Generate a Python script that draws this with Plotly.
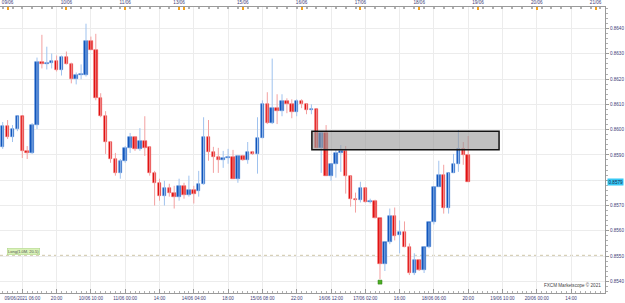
import plotly.graph_objects as go

# ---------------- data (2-hour candles, EUR/GBP-like) ----------------
idx = list(range(96))
open_ = [0.85932, 0.86014, 0.85971, 0.86002, 0.86053, 0.85916, 0.85908, 0.86018, 0.86269, 0.86258,
         0.86265, 0.86273, 0.86234, 0.86289, 0.86261, 0.86199, 0.86216, 0.86218, 0.86352, 0.86316,
         0.86124, 0.86053, 0.85951, 0.85884, 0.85829, 0.85877, 0.85928, 0.85971, 0.85924, 0.85955,
         0.85932, 0.85829, 0.85790, 0.85739, 0.85771, 0.85751, 0.85735, 0.85778, 0.85743, 0.85763,
         0.85759, 0.85786, 0.85971, 0.85912, 0.85892, 0.85880, 0.85888, 0.85892, 0.85806, 0.85896,
         0.85880, 0.85912, 0.85904, 0.85967, 0.86100, 0.86026, 0.86085, 0.86073, 0.86112, 0.86100,
         0.86069, 0.86112, 0.86100, 0.86077, 0.86081, 0.85928, 0.85987, 0.85818, 0.85865, 0.85908,
         0.85916, 0.85818, 0.85727, 0.85723, 0.85771, 0.85712, 0.85719, 0.85649, 0.85468, 0.85554,
         0.85657, 0.85582, 0.85594, 0.85535, 0.85433, 0.85484, 0.85444, 0.85535, 0.85633, 0.85774,
         0.85822, 0.85692, 0.85829, 0.85865, 0.85924, 0.85900]
high = [0.86030, 0.86038, 0.86018, 0.86053, 0.86053, 0.85935, 0.86026, 0.86285, 0.86375, 0.86328,
        0.86301, 0.86293, 0.86293, 0.86309, 0.86265, 0.86226, 0.86258, 0.86419, 0.86368, 0.86379,
        0.86144, 0.86073, 0.85955, 0.85908, 0.85884, 0.85935, 0.85987, 0.85975, 0.86006, 0.86053,
        0.85935, 0.85837, 0.85806, 0.85798, 0.85786, 0.85778, 0.85806, 0.85790, 0.85818, 0.85778,
        0.85837, 0.86049, 0.86038, 0.85932, 0.85928, 0.85916, 0.85924, 0.85920, 0.85900, 0.85900,
        0.85951, 0.85916, 0.86049, 0.86116, 0.86148, 0.86281, 0.86140, 0.86140, 0.86124, 0.86120,
        0.86120, 0.86120, 0.86104, 0.86100, 0.86081, 0.85990, 0.86018, 0.85865, 0.85920, 0.85939,
        0.85935, 0.85818, 0.85751, 0.85794, 0.85771, 0.85727, 0.85723, 0.85649, 0.85554, 0.85688,
        0.85692, 0.85641, 0.85637, 0.85550, 0.85511, 0.85488, 0.85535, 0.85633, 0.85774, 0.85877,
        0.85861, 0.85829, 0.85904, 0.85998, 0.85951, 0.85975]
low = [0.85924, 0.85963, 0.85951, 0.85994, 0.85888, 0.85884, 0.85904, 0.86002, 0.86242, 0.86238,
       0.86242, 0.86230, 0.86214, 0.86258, 0.86183, 0.86179, 0.86199, 0.86210, 0.86316, 0.86116,
       0.86049, 0.85904, 0.85869, 0.85818, 0.85806, 0.85869, 0.85908, 0.85916, 0.85916, 0.85896,
       0.85818, 0.85700, 0.85719, 0.85700, 0.85735, 0.85688, 0.85719, 0.85727, 0.85735, 0.85708,
       0.85735, 0.85782, 0.85877, 0.85829, 0.85829, 0.85849, 0.85865, 0.85806, 0.85790, 0.85877,
       0.85865, 0.85900, 0.85826, 0.85967, 0.86022, 0.86022, 0.86022, 0.86053, 0.86065, 0.86045,
       0.86053, 0.86085, 0.86061, 0.86061, 0.85928, 0.85829, 0.85818, 0.85798, 0.85810, 0.85833,
       0.85747, 0.85696, 0.85672, 0.85712, 0.85712, 0.85708, 0.85649, 0.85409, 0.85441, 0.85547,
       0.85562, 0.85511, 0.85535, 0.85425, 0.85425, 0.85441, 0.85433, 0.85531, 0.85625, 0.85774,
       0.85668, 0.85668, 0.85829, 0.85833, 0.85861, 0.85794]
close = [0.86014, 0.85971, 0.86002, 0.86053, 0.85916, 0.85908, 0.86018, 0.86269, 0.86258, 0.86265,
         0.86273, 0.86234, 0.86289, 0.86261, 0.86199, 0.86218, 0.86218, 0.86352, 0.86316, 0.86124,
         0.86053, 0.85951, 0.85884, 0.85829, 0.85877, 0.85928, 0.85971, 0.85924, 0.85955, 0.85928,
         0.85829, 0.85790, 0.85739, 0.85771, 0.85751, 0.85735, 0.85778, 0.85743, 0.85763, 0.85747,
         0.85786, 0.85971, 0.85912, 0.85892, 0.85880, 0.85888, 0.85892, 0.85806, 0.85896, 0.85880,
         0.85912, 0.85904, 0.85967, 0.86100, 0.86026, 0.86085, 0.86073, 0.86112, 0.86100, 0.86069,
         0.86112, 0.86100, 0.86077, 0.86081, 0.85928, 0.85987, 0.85818, 0.85865, 0.85908, 0.85916,
         0.85818, 0.85727, 0.85723, 0.85771, 0.85712, 0.85719, 0.85649, 0.85468, 0.85554, 0.85657,
         0.85578, 0.85594, 0.85535, 0.85433, 0.85484, 0.85444, 0.85535, 0.85633, 0.85774, 0.85822,
         0.85692, 0.85829, 0.85865, 0.85924, 0.85900, 0.85794]

bottom_tick_idx = [4, 11, 18, 25, 32, 39, 46, 53, 60, 67, 74, 81, 88, 95, 102, 109, 116]
bottom_tick_text = ["09/06/2021 06:00", "20:00", "10/06 10:00", "11/06 00:00", "14:00",
                    "14/06 04:00", "18:00", "15/06 08:00", "22:00", "16/06 12:00",
                    "17/06 02:00", "16:00", "18/06 06:00", "20:00", "19/06 10:00",
                    "20/06 00:00", "14:00"]
day_tick_idx = [1, 13, 25, 36, 37, 49, 61, 73, 85, 97, 109, 121]
day_tick_text = ["09/06", "10/06", "11/06", "13/06", "", "15/06", "16/06", "17/06",
                 "18/06", "19/06", "20/06", "21/06"]
price_ticks = [0.8540, 0.8550, 0.8560, 0.8570, 0.8580, 0.8590, 0.8600, 0.8610, 0.8620, 0.8630, 0.8640]
price_tick_text = ["0.8540", "0.8550", "0.8560", "0.8570", "", "0.8590", "0.8600",
                   "0.8610", "0.8620", "0.8630", "0.8640"]
last_price_text = "0.8579"

zone_x = [63.1, 101.3]
zone_price = [0.85920, 0.85994]
order_price = 0.85503
order_text = "Long(1.0M, 20.5)"
signal_idx = [77]

x_range = [-0.551, 122.92]
y_range = [0.85354, 0.86485]

# ---------------- build ----------------
BLUE, BLUE_EDGE, BLUE_WICK = "#0a4fb8", "#4f86d6", "#9fc2ee"
RED, RED_EDGE, RED_WICK = "#e00808", "#ee6060", "#f3a0a0"
TXT = "#3c3c78"
FONT = "Liberation Sans"

up = [i for i in idx if close[i] >= open_[i]]
dn = [i for i in idx if close[i] < open_[i]]
MINH = 0.00003


def wicks(ids):
    xs, ys = [], []
    for i in ids:
        xs += [i, i, None]
        ys += [low[i], high[i], None]
    return xs, ys


fig = go.Figure()
for ids, col in ((up, BLUE_WICK), (dn, RED_WICK)):
    wx, wy = wicks(ids)
    fig.add_trace(go.Scatter(x=wx, y=wy, mode="lines", line=dict(color=col, width=1),
                             hoverinfo="skip", showlegend=False))

fig.add_trace(go.Bar(x=up, base=[open_[i] for i in up],
                     y=[max(close[i] - open_[i], MINH) for i in up],
                     width=0.72, marker=dict(color=BLUE, line=dict(color=BLUE_EDGE, width=0.6)),
                     showlegend=False))
fig.add_trace(go.Bar(x=dn, base=[close[i] for i in dn],
                     y=[max(open_[i] - close[i], MINH) for i in dn],
                     width=0.72, marker=dict(color=RED, line=dict(color=RED_EDGE, width=0.6)),
                     showlegend=False))

# signal marker below the low
fig.add_trace(go.Scatter(x=signal_idx, y=[low[i] - 0.00012 for i in signal_idx], mode="markers",
                         marker=dict(symbol="square", size=4, color="#4caf24",
                                     line=dict(color="#2e7d14", width=0.5)),
                         showlegend=False, hoverinfo="skip"))

# dummy trace for top axis
fig.add_trace(go.Scatter(x=day_tick_idx, y=[None] * len(day_tick_idx), xaxis="x2",
                         showlegend=False, hoverinfo="skip"))

fig.update_layout(
    width=625, height=303,
    margin=dict(l=0, r=20, t=5, b=10),
    paper_bgcolor="white", plot_bgcolor="white",
    barmode="overlay", bargap=0,
    font=dict(family=FONT, size=5, color=TXT),
    xaxis=dict(range=x_range, tickmode="array", tickvals=bottom_tick_idx, ticktext=bottom_tick_text,
               showgrid=True, gridcolor="#ececec", gridwidth=1, zeroline=False,
               ticks="inside", ticklen=4, tickcolor="#9a9a9a", tickwidth=1,
               showline=True, linecolor="#9a9a9a", linewidth=1,
               tickfont=dict(family=FONT, size=4.6, color=TXT),
               minor=dict(tickmode="array", tickvals=list(range(0, 123)), ticks="inside",
                          ticklen=2, tickcolor="#b0b0b0", showgrid=False)),
    xaxis2=dict(overlaying="x", side="top", range=x_range, tickmode="array",
                tickvals=day_tick_idx, ticktext=day_tick_text, showgrid=False, zeroline=False,
                ticks="inside", ticklen=3, tickwidth=2, tickcolor="#f0a020",
                showline=True, linecolor="#9a9a9a", linewidth=1,
                tickfont=dict(family=FONT, size=4.6, color=TXT),
                minor=dict(tickmode="array", tickvals=list(range(0, 123, 2)), ticks="inside",
                           ticklen=2, tickcolor="#b0b0b0", showgrid=False)),
    yaxis=dict(range=y_range, side="right", tickmode="array", tickvals=price_ticks,
               ticktext=price_tick_text, showgrid=True, gridcolor="#ececec", zeroline=False,
               ticks="outside", ticklen=3, tickcolor="#9a9a9a",
               showline=True, linecolor="#9a9a9a", linewidth=1,
               tickfont=dict(family=FONT, size=4.6, color=TXT),
               minor=dict(tickmode="linear", tick0=0.854, dtick=0.0002, ticks="outside",
                          ticklen=2, tickcolor="#b0b0b0", showgrid=False)),
    shapes=[
        dict(type="line", xref="paper", x0=0, x1=1, yref="y", y0=order_price, y1=order_price,
             line=dict(color="#cfc6a8", width=1, dash="dot"), layer="below"),
        dict(type="rect", xref="x", x0=zone_x[0], x1=zone_x[1], yref="y",
             y0=zone_price[0], y1=zone_price[1],
             fillcolor="rgba(150,150,150,0.6)", line=dict(color="#111111", width=1.5),
             layer="above"),
    ],
    annotations=[
        dict(xref="paper", x=1, xanchor="left", xshift=2, yref="y", y=close[-1],
             text=last_price_text, showarrow=False, bgcolor="#36c8f4", borderpad=0.5,
             font=dict(family=FONT, size=4.6, color="#1a2a50")),
        dict(xref="paper", x=0.0116, xanchor="left", yref="y", y=order_price, yshift=4,
             text=order_text, showarrow=False, bgcolor="#daf2b8", bordercolor="#a9d284",
             borderwidth=0.5, borderpad=0.5, font=dict(family=FONT, size=4, color="#555555")),
        dict(xref="paper", x=1, xanchor="right", xshift=-2, yref="paper", y=0.028,
             yanchor="middle", text="FXCM Marketscope © 2021", showarrow=False,
             font=dict(family=FONT, size=4.6, color="#444444")),
    ],
)

fig.write_html("out.html")
